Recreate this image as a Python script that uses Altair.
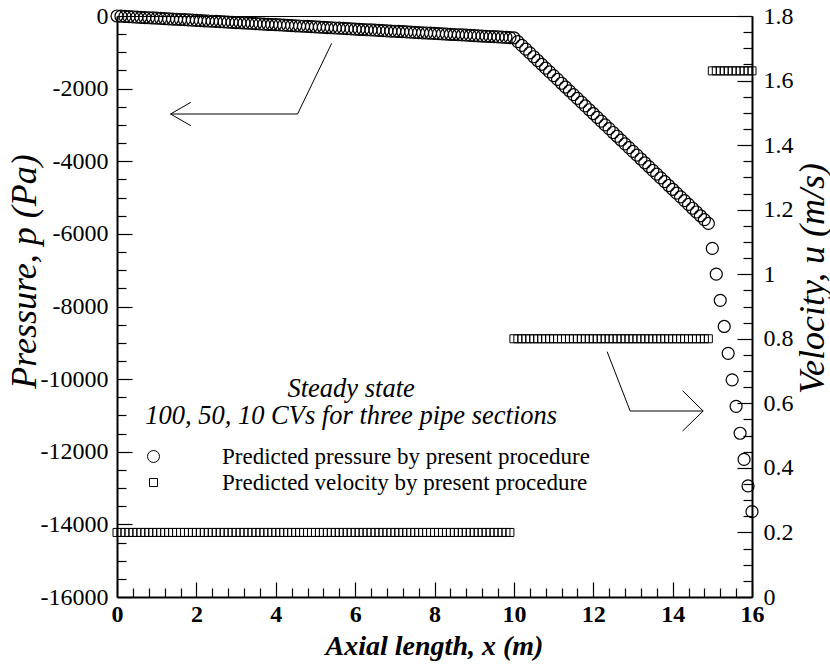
import altair as alt
import pandas as pd

FONT = "Times New Roman, Liberation Serif, Times, serif"

# Control-volume centres along the three pipe sections (m)
x_section1 = [
    0.0, 0.1, 0.2, 0.3, 0.4, 0.5, 0.6, 0.7, 0.8, 0.9,
    1.0, 1.1, 1.2, 1.3, 1.4, 1.5, 1.6, 1.7, 1.8, 1.9,
    2.0, 2.1, 2.2, 2.3, 2.4, 2.5, 2.6, 2.7, 2.8, 2.9,
    3.0, 3.1, 3.2, 3.3, 3.4, 3.5, 3.6, 3.7, 3.8, 3.9,
    4.0, 4.1, 4.2, 4.3, 4.4, 4.5, 4.6, 4.7, 4.8, 4.9,
    5.0, 5.1, 5.2, 5.3, 5.4, 5.5, 5.6, 5.7, 5.8, 5.9,
    6.0, 6.1, 6.2, 6.3, 6.4, 6.5, 6.6, 6.7, 6.8, 6.9,
    7.0, 7.1, 7.2, 7.3, 7.4, 7.5, 7.6, 7.7, 7.8, 7.9,
    8.0, 8.1, 8.2, 8.3, 8.4, 8.5, 8.6, 8.7, 8.8, 8.9,
    9.0, 9.1, 9.2, 9.3, 9.4, 9.5, 9.6, 9.7, 9.8, 9.9,
]
x_section2 = [
    10.0, 10.1, 10.2, 10.3, 10.4, 10.5, 10.6, 10.7, 10.8, 10.9,
    11.0, 11.1, 11.2, 11.3, 11.4, 11.5, 11.6, 11.7, 11.8, 11.9,
    12.0, 12.1, 12.2, 12.3, 12.4, 12.5, 12.6, 12.7, 12.8, 12.9,
    13.0, 13.1, 13.2, 13.3, 13.4, 13.5, 13.6, 13.7, 13.8, 13.9,
    14.0, 14.1, 14.2, 14.3, 14.4, 14.5, 14.6, 14.7, 14.8, 14.9,
]
x_section3 = [15.0, 15.1, 15.2, 15.3, 15.4, 15.5, 15.6, 15.7, 15.8, 15.9, 16.0]

# Predicted pressure (Pa)
p_section1 = [
    0, -6, -12, -18, -24, -30, -36, -42, -48, -54,
    -60, -66, -72, -78, -84, -90, -96, -102, -108, -114,
    -120, -126, -132, -138, -144, -150, -156, -162, -168, -174,
    -180, -186, -192, -198, -204, -210, -216, -222, -228, -234,
    -240, -246, -252, -258, -264, -270, -276, -282, -288, -294,
    -300, -306, -312, -318, -324, -330, -336, -342, -348, -354,
    -360, -366, -372, -378, -384, -390, -396, -402, -408, -414,
    -420, -426, -432, -438, -444, -450, -456, -462, -468, -474,
    -480, -486, -492, -498, -504, -510, -516, -522, -528, -534,
    -540, -546, -552, -558, -564, -570, -576, -582, -588, -594,
]
p_section2 = [
    -600, -704, -809, -913, -1017, -1122, -1226, -1330, -1434, -1539,
    -1643, -1747, -1852, -1956, -2060, -2165, -2269, -2373, -2477, -2582,
    -2686, -2790, -2895, -2999, -3103, -3208, -3312, -3416, -3520, -3625,
    -3729, -3833, -3938, -4042, -4146, -4251, -4355, -4459, -4563, -4668,
    -4772, -4876, -4981, -5085, -5189, -5294, -5398, -5502, -5606, -5711,
]
p_section3 = [-6400, -7110, -7830, -8550, -9290, -10020, -10750, -11490, -12210, -12940, -13650]

# Predicted velocity in each section (m/s)
velocity_by_section = [0.2, 0.8, 1.63]

# Annotation arrows (x in m, pressure axis units)
arrow_part = ["a1", "a1", "a1", "h1", "h1", "h1", "a2", "a2", "a2", "h2", "h2", "h2"]
arrow_step = [0, 1, 2, 0, 1, 2, 0, 1, 2, 0, 1, 2]
arrow_x = [5.41, 4.55, 1.35, 1.86, 1.35, 1.86, 12.35, 12.93, 14.77, 14.25, 14.77, 14.25]
arrow_p = [-752, -2699, -2699, -2377, -2699, -3021, -9245, -10878, -10878, -10319, -10878, -11429]

note_text = ["Steady state", "100, 50, 10 CVs for three pipe sections"]
note_x = [5.9, 5.9]
note_p = [-10493, -11237]

P_LABEL = "Predicted pressure by present procedure"
U_LABEL = "Predicted velocity by present procedure"

x_all = x_section1 + x_section2 + x_section3
pressure_df = pd.DataFrame({
    "x": x_all,
    "p": p_section1 + p_section2 + p_section3,
    "series": P_LABEL,
})
velocity_df = pd.DataFrame({
    "x": x_all,
    "u": [velocity_by_section[0]] * len(x_section1)
    + [velocity_by_section[1]] * len(x_section2)
    + [velocity_by_section[2]] * len(x_section3),
    "series": U_LABEL,
})
arrow_df = pd.DataFrame({"part": arrow_part, "step": arrow_step, "x": arrow_x, "p": arrow_p})
note_df = pd.DataFrame({"text": note_text, "x": note_x, "p": note_p})

x_scale = alt.Scale(domain=[0, 16], nice=False, zero=False)
p_scale = alt.Scale(domain=[-16000, 0], nice=False, zero=False)
u_scale = alt.Scale(domain=[0, 1.8], nice=False, zero=False)
shape_scale = alt.Scale(domain=[P_LABEL, U_LABEL], range=["circle", "square"])
size_scale = alt.Scale(domain=[P_LABEL, U_LABEL], range=[144, 64])

MAJOR, MINOR = 15, 9
# plain numbers with an ASCII hyphen, no thousands separator
PLAIN = "datum.value < 0 ? '-' + abs(datum.value) : '' + datum.value"

tick_style = dict(
    domain=False, grid=False, tickColor="black", tickWidth=1.2,
    labelFont=FONT, labelColor="black", labelFontSize=24,
    labelFlush=False, labelOverlap=False, title=None, labelExpr=PLAIN,
)
minor_style = dict(
    domain=False, grid=False, tickColor="black", tickWidth=1.2,
    labels=False, title=None, tickSize=MINOR, offset=-MINOR,
)
domain_style = dict(
    domain=True, domainColor="black", domainWidth=2, ticks=False,
    labels=False, grid=False, titleFont=FONT, titleColor="black",
)

x_major_vals = list(range(0, 17, 2))
x_minor_vals = [round(0.4 * k, 1) for k in range(1, 40) if k % 5]
p_major_vals = list(range(-16000, 1, 2000))
p_minor_vals = [v for v in range(-15500, 0, 500) if v % 2000]
u_major_vals = [round(0.2 * k, 1) for k in range(0, 10)]
u_minor_vals = [round(0.05 * k, 2) for k in range(1, 36) if k % 4]

legend = alt.Legend(
    title=None, orient="none", legendX=25, legendY=429, padding=0,
    labelFont=FONT, labelFontSize=23, labelColor="black", labelLimit=0,
    labelOffset=57, rowPadding=2, symbolStrokeWidth=1,
)

pressure_pts = alt.Chart(pressure_df).mark_point(
    filled=False, color="black", strokeWidth=1.2, opacity=1
).encode(
    x=alt.X("x:Q", scale=x_scale, axis=alt.Axis(
        orient="bottom", values=x_major_vals, tickSize=MAJOR, offset=-MAJOR,
        labelPadding=5, labelFontWeight="bold", **tick_style)),
    y=alt.Y("p:Q", scale=p_scale, axis=alt.Axis(
        orient="left", values=p_major_vals, tickSize=MAJOR, offset=-MAJOR,
        labelPadding=9, **tick_style)),
    shape=alt.Shape("series:N", scale=shape_scale, legend=legend),
    size=alt.Size("series:N", scale=size_scale, legend=legend),
)

pressure_minor = alt.Chart(pressure_df).mark_point(opacity=0).encode(
    x=alt.X("x:Q", scale=x_scale, axis=alt.Axis(orient="bottom", values=x_minor_vals, **minor_style)),
    y=alt.Y("p:Q", scale=p_scale, axis=alt.Axis(orient="left", values=p_minor_vals, **minor_style)),
)

arrows = alt.Chart(arrow_df).mark_line(color="black", strokeWidth=1).encode(
    x=alt.X("x:Q", scale=x_scale, axis=alt.Axis(
        orient="bottom", title="Axial length, x (m)", titleFontSize=28,
        titleFontStyle="italic", titleFontWeight="bold", titleX=317, titleY=57,
        titleAlign="center", titleBaseline="alphabetic", **domain_style)),
    y=alt.Y("p:Q", scale=p_scale, axis=alt.Axis(
        orient="left", title="Pressure, p (Pa)", titleFontSize=36,
        titleFontStyle="italic", titleFontWeight="normal", titleAngle=270,
        titleX=-93, titleY=255, titleAlign="center", titleBaseline="middle",
        **domain_style)),
    detail="part:N",
    order="step:Q",
)

notes = alt.Chart(note_df).mark_text(
    font=FONT, fontSize=26.5, fontStyle="italic", color="black",
    align="center", baseline="alphabetic",
).encode(
    x=alt.X("x:Q", scale=x_scale, axis=None),
    y=alt.Y("p:Q", scale=p_scale, axis=None),
    text="text:N",
)

velocity_pts = alt.Chart(velocity_df).mark_point(
    filled=False, color="black", strokeWidth=1, opacity=1
).encode(
    x=alt.X("x:Q", scale=x_scale, axis=None),
    y=alt.Y("u:Q", scale=u_scale, axis=alt.Axis(
        orient="right", values=u_major_vals, tickSize=MAJOR, offset=-MAJOR,
        labelPadding=11, **tick_style)),
    shape=alt.Shape("series:N", scale=shape_scale, legend=legend),
    size=alt.Size("series:N", scale=size_scale, legend=legend),
)

velocity_minor = alt.Chart(velocity_df).mark_point(opacity=0).encode(
    x=alt.X("x:Q", scale=x_scale, axis=None),
    y=alt.Y("u:Q", scale=u_scale, axis=alt.Axis(orient="right", values=u_minor_vals, **minor_style)),
)

velocity_frame = alt.Chart(velocity_df).mark_point(opacity=0).encode(
    x=alt.X("x:Q", scale=x_scale, axis=None),
    y=alt.Y("u:Q", scale=u_scale, axis=alt.Axis(
        orient="right", title="Velocity, u (m/s)", titleFontSize=36,
        titleFontStyle="italic", titleFontWeight="normal", titleAngle=270,
        titleX=60, titleY=262, titleAlign="center", titleBaseline="middle",
        **domain_style)),
)

chart = alt.layer(
    pressure_pts, pressure_minor, arrows, notes,
    velocity_pts, velocity_minor, velocity_frame,
).resolve_scale(
    y="independent"
).resolve_axis(
    x="independent", y="independent"
).properties(
    width=635, height=581,
    autosize=alt.AutoSizeParams(type="none"),
    padding={"left": 117, "top": 16, "right": 78, "bottom": 69},
    background="white",
).configure_view(
    stroke="black", strokeWidth=1
)

chart.save("out.html", embed_options={"renderer": "svg", "actions": False})
